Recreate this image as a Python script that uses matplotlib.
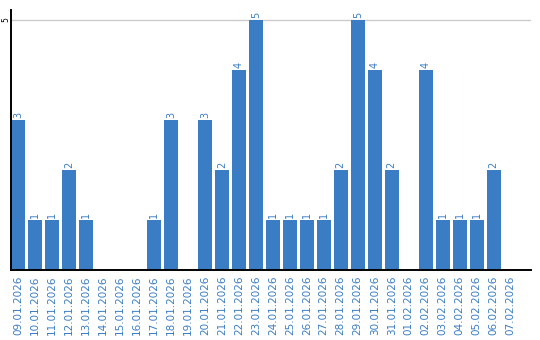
import matplotlib
matplotlib.use("Agg")
import matplotlib.pyplot as plt

dates = ["09.01.2026", "10.01.2026", "11.01.2026", "12.01.2026", "13.01.2026",
         "14.01.2026", "15.01.2026", "16.01.2026", "17.01.2026", "18.01.2026",
         "19.01.2026", "20.01.2026", "21.01.2026", "22.01.2026", "23.01.2026",
         "24.01.2026", "25.01.2026", "26.01.2026", "27.01.2026", "28.01.2026",
         "29.01.2026", "30.01.2026", "31.01.2026", "01.02.2026", "02.02.2026",
         "03.02.2026", "04.02.2026", "05.02.2026", "06.02.2026", "07.02.2026"]
counts = [3, 1, 1, 2, 1, 0, 0, 0, 1, 3,
          0, 3, 2, 4, 5, 1, 1, 1, 1, 2,
          5, 4, 2, 0, 4, 1, 1, 1, 2, 0]

blue = "#3b7dc4"

fig = plt.figure(figsize=(5.4, 3.4), dpi=100)
ax = fig.add_axes([11 / 540, 70 / 340, 520 / 540, 260 / 340])

x = list(range(len(dates)))
ax.bar(x, counts, width=0.82, color=blue, zorder=2)

for xi, v in zip(x, counts):
    if v > 0:
        ax.text(xi, v + 0.04, str(v), rotation=90, ha="center", va="bottom",
                color=blue, fontsize=7)

ax.set_xlim(-0.41, 30.2)
ax.set_ylim(0, 5.2)
ax.set_yticks([5])
ax.set_yticklabels(["5"], rotation=90, va="center", fontsize=5.5)
ax.yaxis.grid(True, color="#cccccc", linewidth=1, zorder=0)
ax.tick_params(axis="y", length=0, pad=0.5)

ax.set_xticks(x)
ax.set_xticklabels(dates, rotation=90, color=blue, fontsize=7.5)
ax.tick_params(axis="x", length=0, pad=4)

for side in ["top", "right"]:
    ax.spines[side].set_visible(False)
ax.spines["left"].set_linewidth(1.4)
ax.spines["bottom"].set_linewidth(1.4)

fig.savefig("out.png", dpi=100)
